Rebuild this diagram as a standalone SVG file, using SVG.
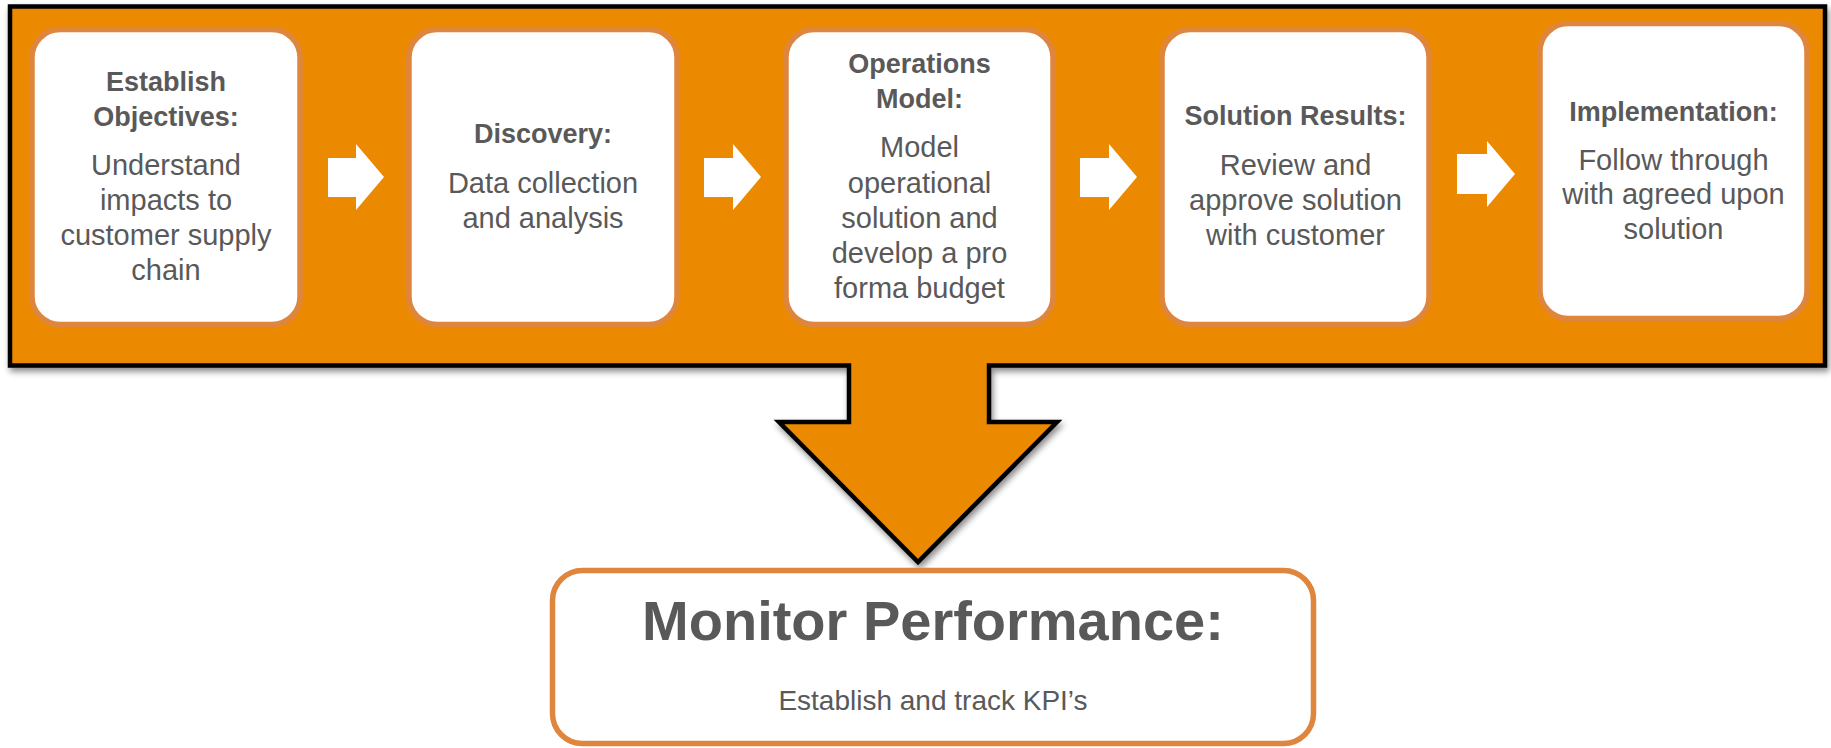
<svg xmlns="http://www.w3.org/2000/svg" width="1831" height="748" viewBox="0 0 1831 748">
  <defs>
    <filter id="shadow" x="-5%" y="-5%" width="110%" height="115%">
      <feDropShadow dx="2" dy="4" stdDeviation="3" flood-color="#000" flood-opacity="0.45"/>
    </filter>
    <style>
      .frame { fill: #EB8A00; stroke: #000; stroke-width: 4.5; stroke-linejoin: miter; }
      .box { fill: #FFFFFF; stroke: #DF863E; stroke-width: 5.5; }
      .arrow { fill: #FFFFFF; stroke: none; }
      .t { font-family: "Liberation Sans", Arial, sans-serif; fill: #595959; text-anchor: middle; }
      .title { font-size: 27px; font-weight: bold; }
      .body { font-size: 29px; }
    </style>
  </defs>
  <rect width="1831" height="748" fill="#FFFFFF"/>

  <g id="frame">
    <path class="frame" filter="url(#shadow)" d="M10,6.5 H1825 V365.5 H989 V422 H1057 L918,562 L779,422 H849 V365.5 H10 Z"/>
  </g>

  <g id="connectors">
    <polygon class="arrow" points="328,158 356,158 356,144 384,177 356,210 356,197 328,197"/>
    <polygon class="arrow" points="704,158 733,158 733,144 761,177 733,210 733,197 704,197"/>
    <polygon class="arrow" points="1080,158 1109,158 1109,144 1137,177 1109,210 1109,197 1080,197"/>
    <polygon class="arrow" points="1457,154 1487,154 1487,141 1515,174 1487,207 1487,194 1457,194"/>
  </g>

  <g id="node-establish">
    <rect class="box" x="32" y="29.5" width="268" height="295" rx="28"/>
    <text class="t title" x="166" y="91">Establish</text>
    <text class="t title" x="166" y="126">Objectives:</text>
    <text class="t body" x="166" y="175">Understand</text>
    <text class="t body" x="166" y="210">impacts to</text>
    <text class="t body" x="166" y="245">customer supply</text>
    <text class="t body" x="166" y="280">chain</text>
  </g>

  <g id="node-discovery">
    <rect class="box" x="409" y="29.5" width="268" height="295" rx="28"/>
    <text class="t title" x="543" y="143">Discovery:</text>
    <text class="t body" x="543" y="193">Data collection</text>
    <text class="t body" x="543" y="228">and analysis</text>
  </g>

  <g id="node-operations">
    <rect class="box" x="786" y="29.5" width="267" height="295" rx="28"/>
    <text class="t title" x="919.5" y="73">Operations</text>
    <text class="t title" x="919.5" y="108">Model:</text>
    <text class="t body" x="919.5" y="157">Model</text>
    <text class="t body" x="919.5" y="193">operational</text>
    <text class="t body" x="919.5" y="228">solution and</text>
    <text class="t body" x="919.5" y="263">develop a pro</text>
    <text class="t body" x="919.5" y="298">forma budget</text>
  </g>

  <g id="node-solution">
    <rect class="box" x="1162" y="29.5" width="267" height="295" rx="28"/>
    <text class="t title" x="1295.5" y="125">Solution Results:</text>
    <text class="t body" x="1295.5" y="175">Review and</text>
    <text class="t body" x="1295.5" y="210">approve solution</text>
    <text class="t body" x="1295.5" y="245">with customer</text>
  </g>

  <g id="node-implementation">
    <rect class="box" x="1540" y="23.5" width="267" height="295" rx="28"/>
    <text class="t title" x="1673.5" y="121">Implementation:</text>
    <text class="t body" x="1673.5" y="170">Follow through</text>
    <text class="t body" x="1673.5" y="204">with agreed upon</text>
    <text class="t body" x="1673.5" y="239">solution</text>
  </g>

  <g id="node-monitor">
    <rect class="box" x="552.5" y="570.5" width="761" height="173" rx="30"/>
    <text class="t" x="933" y="640" font-size="56" font-weight="bold">Monitor Performance:</text>
    <text class="t" x="933" y="710" font-size="28">Establish and track KPI’s</text>
  </g>
</svg>
